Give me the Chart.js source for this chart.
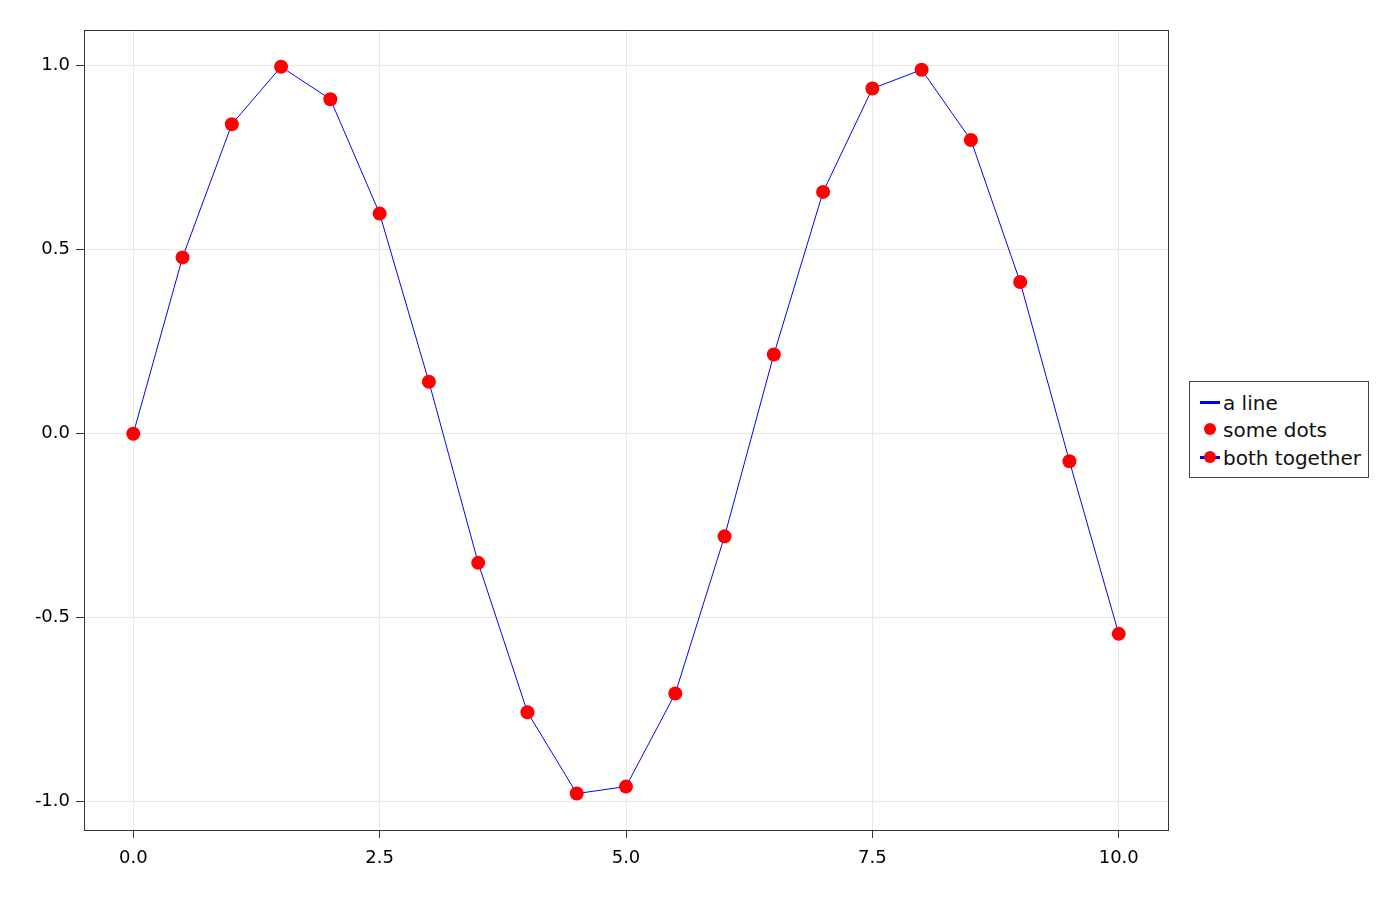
<!DOCTYPE html>
<html>
<head>
<meta charset="utf-8">
<script src="https://cdn.jsdelivr.net/npm/chart.js@4"></script>
<style>
    body { margin: 0; background: #fff; font-family: "DejaVu Sans", sans-serif; }
    #wrap { position: relative; width: 1400px; height: 900px; }
    #legend {
        position: absolute; left: 1189px; top: 381px; width: 178px; height: 95px;
        border: 1px solid #444; background: #fff; font-size: 20px; color: #111;
    }
    .row { position: absolute; left: 0; height: 28px; line-height: 28px; white-space: nowrap; }
    .mark { position: absolute; left: 10px; top: 0; width: 20px; height: 28px; }
    .mark .ln { position: absolute; left: 0; top: 12px; width: 20px; height: 3px; background: #0000ff; }
    .mark .dt { position: absolute; left: 4px; top: 7px; width: 12px; height: 12px; border-radius: 50%; background: #ff0000; }
    .row span.t { position: absolute; left: 33px; }
</style>
</head>
<body>
<div id="wrap">
    <canvas id="sineChart" width="1400" height="900"></canvas>
    <div id="legend">
        <div class="row" style="top:7px"><div class="mark"><div class="ln"></div></div><span class="t">a line</span></div>
        <div class="row" style="top:34px"><div class="mark"><div class="dt"></div></div><span class="t">some dots</span></div>
        <div class="row" style="top:62px"><div class="mark"><div class="ln"></div><div class="dt"></div></div><span class="t">both together</span></div>
    </div>
</div>
<script>
const xValues = [0, 0.5, 1, 1.5, 2, 2.5, 3, 3.5, 4, 4.5, 5, 5.5, 6, 6.5, 7, 7.5, 8, 8.5, 9, 9.5, 10];
const yValues = [0, 0.479, 0.841, 0.997, 0.909, 0.598, 0.141, -0.351, -0.757, -0.978, -0.959,
                 -0.706, -0.279, 0.215, 0.657, 0.938, 0.989, 0.798, 0.412, -0.075, -0.544];
const xTicks = [0, 2.5, 5, 7.5, 10];
const yTicks = [-1, -0.5, 0, 0.5, 1];

const points = xValues.map((x, i) => ({ x: x, y: yValues[i] }));

// box around the plot area
const frame = {
    id: 'frame',
    afterDraw(chart) {
        const a = chart.chartArea;
        const c = chart.ctx;
        c.save();
        c.strokeStyle = '#333';
        c.lineWidth = 1;
        c.strokeRect(Math.round(a.left) + 0.5, Math.round(a.top) + 0.5,
            Math.round(a.right - a.left), Math.round(a.bottom - a.top));
        c.restore();
    }
};

const tickFont = { family: "'DejaVu Sans'", size: 18 };

new Chart(document.getElementById('sineChart').getContext('2d'), {
    type: 'line',
    data: {
        datasets: [
            {
                label: 'some dots',
                data: points,
                showLine: false,
                pointRadius: 7,
                pointHoverRadius: 7,
                pointBackgroundColor: '#ff0000',
                pointBorderColor: '#ff0000',
                pointBorderWidth: 0,
                order: 0
            },
            {
                label: 'a line',
                data: points,
                borderColor: '#0000ff',
                borderWidth: 1,
                pointRadius: 0,
                tension: 0,
                order: 1
            }
        ]
    },
    options: {
        responsive: false,
        animation: false,
        layout: { padding: { top: 30, right: 232, left: 0, bottom: 0 } },
        plugins: { legend: { display: false }, tooltip: { enabled: false } },
        scales: {
            x: {
                type: 'linear',
                min: -0.5,
                max: 10.5,
                afterBuildTicks: s => { s.ticks = xTicks.map(v => ({ value: v })); },
                afterFit: s => { s.height = 70; },
                grid: { color: '#e8e8e8', tickColor: '#333', tickLength: 8 },
                border: { color: '#333' },
                ticks: {
                    color: '#000',
                    font: tickFont,
                    padding: 10,
                    maxRotation: 0,
                    callback: v => v.toFixed(1)
                }
            },
            y: {
                min: -1.077,
                max: 1.097,
                afterBuildTicks: s => { s.ticks = yTicks.map(v => ({ value: v })); },
                afterFit: s => { s.width = 84; },
                grid: { color: '#e8e8e8', tickColor: '#333', tickLength: 8 },
                border: { color: '#333' },
                ticks: {
                    color: '#000',
                    font: tickFont,
                    padding: 6,
                    callback: v => v.toFixed(1)
                }
            }
        }
    },
    plugins: [frame]
});
</script>
</body>
</html>
